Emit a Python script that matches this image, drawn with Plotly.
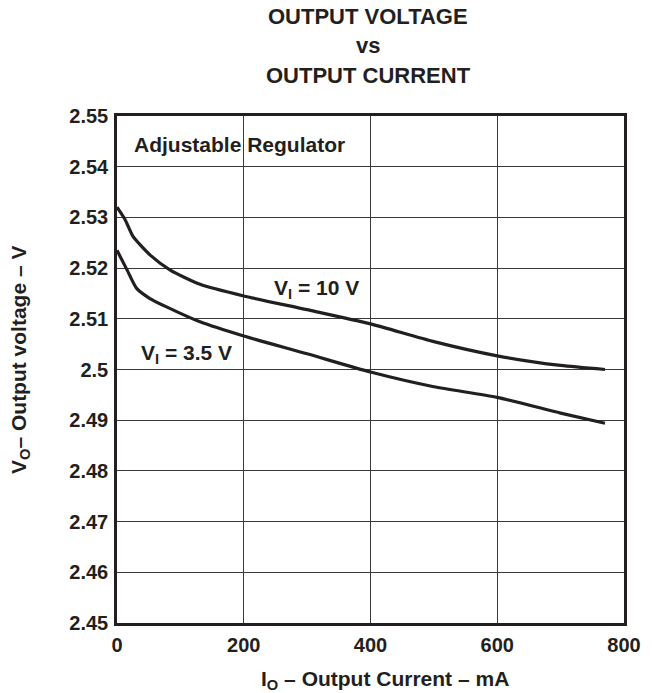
import plotly.graph_objects as go

# Data
current_10v = [0, 13, 25, 52, 84, 131, 200, 300, 400, 500, 600, 700, 770]
voltage_10v = [2.532, 2.5295, 2.5263, 2.5226, 2.5196, 2.5168, 2.5145, 2.5118, 2.5090,
               2.5055, 2.5027, 2.5008, 2.5000]

current_3v5 = [0, 16, 31, 52, 79, 131, 200, 300, 400, 500, 600, 700, 770]
voltage_3v5 = [2.5235, 2.5196, 2.516, 2.514, 2.5123, 2.5094, 2.5066, 2.5031, 2.4995,
               2.4966, 2.4945, 2.4914, 2.4894]

x_ticks = [0, 200, 400, 600, 800]
x_tick_labels = ["0", "200", "400", "600", "800"]
y_ticks = [2.45, 2.46, 2.47, 2.48, 2.49, 2.50, 2.51, 2.52, 2.53, 2.54, 2.55]
y_tick_labels = ["2.45", "2.46", "2.47", "2.48", "2.49", "2.5", "2.51", "2.52", "2.53", "2.54", "2.55"]

title_lines = ["OUTPUT VOLTAGE", "vs", "OUTPUT CURRENT"]

FONT = "Liberation Sans, Arial, sans-serif"
INK = "#231f20"
W, H = 652, 693
L, R, T, B = 117, 28, 116, 70
PW, PH = W - L - R, H - T - B

fig = go.Figure()
for xs, ys in [(current_10v, voltage_10v), (current_3v5, voltage_3v5)]:
    fig.add_trace(go.Scatter(x=xs, y=ys, mode="lines",
                             line=dict(color=INK, width=3.2, shape="spline", smoothing=0.6),
                             showlegend=False, hoverinfo="skip"))

axis_common = dict(showgrid=True, gridcolor="#3a3a3a", gridwidth=1,
                   showline=True, linecolor=INK, linewidth=2.5, mirror=True,
                   zeroline=False, ticks="",
                   tickfont=dict(family=FONT, size=20, color=INK, weight="bold"))

fig.update_xaxes(range=[0, 800], tickvals=x_ticks, ticktext=x_tick_labels, ticklabelstandoff=2,
                 **axis_common)
fig.update_yaxes(range=[2.45, 2.55], tickvals=y_ticks, ticktext=y_tick_labels, ticklabelstandoff=2,
                 **axis_common)


def px_x(p):
    return (p - L) / PW


def px_y(p):
    return (H - B - p) / PH


ann_font = dict(family=FONT, size=21, color=INK, weight="bold")
annotations = [
    dict(text="Adjustable Regulator", x=23.5, y=2.5443, xref="x", yref="y",
         xanchor="left", yanchor="middle", showarrow=False, font=ann_font),
    dict(text="V<sub>I</sub> = 10 V", x=244, y=2.5158, xref="x", yref="y",
         xanchor="left", yanchor="middle", showarrow=False, font=ann_font),
    dict(text="V<sub>I</sub> = 3.5 V", x=34, y=2.5030, xref="x", yref="y",
         xanchor="left", yanchor="middle", showarrow=False, font=ann_font),
    dict(text="I<sub>O</sub> – Output Current – mA", x=px_x(385), y=px_y(680), xref="paper", yref="paper",
         xanchor="center", yanchor="middle", showarrow=False, font=ann_font),
    dict(text="V<sub>O</sub>– Output voltage – V", x=px_x(20), y=px_y(360), xref="paper", yref="paper",
         xanchor="center", yanchor="middle", textangle=-90, showarrow=False, font=ann_font),
]
title_font = dict(family=FONT, size=22, color=INK, weight="bold")
for line, ypix in zip(title_lines, [17, 46, 75]):
    annotations.append(dict(text=line, x=px_x(368), y=px_y(ypix), xref="paper", yref="paper",
                            xanchor="center", yanchor="middle", showarrow=False, font=title_font))

fig.update_layout(
    width=W, height=H,
    margin=dict(l=L, r=R, t=T, b=B),
    paper_bgcolor="white", plot_bgcolor="white",
    annotations=annotations,
)

fig.write_html("out.html", config={"displayModeBar": False},
               post_script="document.body.style.margin='0';document.body.style.overflow='hidden';")
